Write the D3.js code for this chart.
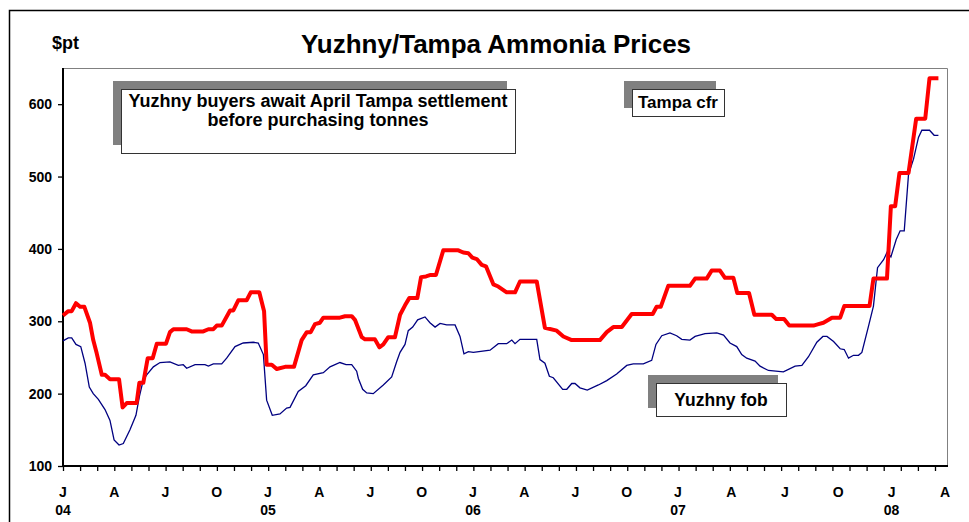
<!DOCTYPE html>
<meta charset="utf-8">
<style>
body{margin:0;background:#fff;}
text{font-family:"Liberation Sans",Arial,sans-serif;font-weight:bold;fill:#000;}
</style>
<body>
<script src="https://d3js.org/d3.v7.min.js"></script>
<script>

// months counted from Jan 2004 (0 = J 04), prices in $/t
var tampaCfr=[
[0,308],[0.31,314],[0.51,314],[0.76,325],[1.0,320],[1.25,320],[1.58,298],[1.77,274],[1.97,256],[2.27,226],[2.46,226],[2.75,220],[3.28,220],[3.49,181],[3.73,187],[4.31,187],[4.47,215],[4.70,215],[4.96,249],[5.25,249],[5.49,269],[6.03,269],[6.26,285],[6.46,289],[7.24,289],[7.53,286],[8.21,286],[8.51,289],[8.80,289],[9.0,294],[9.29,294],[9.78,315],[9.97,315],[10.26,329],[10.75,329],[10.99,340],[11.49,340],[11.77,314],[11.92,240],[12.22,240],[12.51,234],[13.0,237],[13.52,237],[13.97,274],[14.27,285],[14.50,285],[14.75,296],[15.04,298],[15.24,305],[16.21,305],[16.51,307],[16.90,307],[17.09,302],[17.49,278],[17.68,275],[18.26,275],[18.52,264],[18.75,268],[19.04,278],[19.43,278],[19.73,309],[20.02,322],[20.27,332],[20.74,332],[20.96,361],[21.25,362],[21.52,364],[21.83,364],[22.26,398],[23.14,398],[23.43,395],[23.73,394],[23.96,388],[24.22,386],[24.51,378],[24.76,376],[25.19,351],[25.48,348],[25.97,340],[26.46,340],[26.75,355],[27.73,355],[28.21,291],[28.90,287],[29.29,279],[29.78,274],[31.43,274],[31.83,285],[32.21,292],[32.71,292],[33.29,310],[34.52,310],[34.75,320],[34.99,320],[35.43,349],[36.67,349],[36.96,359],[37.61,359],[37.89,370],[38.36,370],[38.64,360],[39.11,360],[39.33,339],[39.99,339],[40.29,309],[41.27,309],[41.52,303],[41.96,303],[42.25,294],[43.61,294],[43.89,296],[44.17,298],[44.65,305],[45.11,305],[45.34,321],[46.76,321],[46.98,359],[47.74,359],[47.96,459],[48.20,459],[48.44,505],[48.95,505],[49.38,580],[49.89,580],[50.13,636],[50.63,636]
];

var yuzhnyFob=[
[0,273],[0.31,277],[0.51,277],[0.76,268],[1.04,265],[1.29,242],[1.54,209],[1.77,200],[2.07,192],[2.46,178],[2.75,163],[2.99,136],[3.28,129],[3.53,131],[3.92,150],[4.27,170],[4.47,196],[4.70,219],[4.90,226],[5.29,237],[5.68,243],[6.26,244],[6.75,239],[7.04,240],[7.24,235],[7.73,240],[8.31,240],[8.51,238],[8.80,241],[9.29,241],[9.58,249],[10.07,265],[10.55,270],[11.14,271],[11.43,270],[11.73,254],[11.92,191],[12.25,170],[12.70,172],[13.09,180],[13.29,181],[13.77,203],[14.21,211],[14.65,226],[15.24,229],[15.63,237],[16.21,243],[16.57,240],[16.90,240],[17.19,231],[17.29,221],[17.54,206],[17.78,201],[18.16,200],[18.75,212],[19.24,223],[19.53,244],[19.73,257],[20.02,268],[20.21,287],[20.47,292],[20.76,302],[21.19,306],[21.48,298],[21.78,292],[22.07,297],[22.46,295],[22.95,295],[23.24,279],[23.47,255],[23.73,258],[24.02,257],[25.0,260],[25.48,269],[25.97,269],[26.27,274],[26.46,269],[26.75,275],[27.73,275],[27.92,247],[28.21,242],[28.47,224],[28.70,222],[29.25,206],[29.49,206],[29.78,214],[29.97,214],[30.26,208],[30.69,205],[31.34,212],[31.83,218],[32.41,227],[33.0,239],[33.38,241],[33.97,241],[34.46,246],[34.71,268],[35.05,280],[35.53,284],[35.92,280],[36.21,275],[36.67,274],[36.96,279],[37.52,283],[38.18,284],[38.56,281],[38.92,270],[39.30,265],[39.58,254],[39.86,249],[40.33,245],[40.61,238],[41.08,232],[41.92,230],[42.58,238],[42.96,239],[43.33,251],[43.80,271],[44.14,279],[44.37,279],[44.74,272],[45.11,262],[45.34,261],[45.58,249],[45.86,253],[46.14,253],[46.33,257],[46.70,293],[46.98,321],[47.21,374],[47.55,385],[47.74,395],[47.96,389],[48.26,413],[48.48,425],[48.71,425],[48.95,503],[49.23,524],[49.51,554],[49.70,564],[50.13,564],[50.39,557],[50.63,557]
];

var monthLetters=["J","A","J","O"];
var yearLabels=["04","05","06","07","08"];
var yTicks=[100,200,300,400,500,600];

var svg=d3.select("body").append("svg").attr("width",969).attr("height",522);

// outer frame
svg.append("path").attr("d","M9.5,522V10.5H969").attr("fill","none").attr("stroke","#000").attr("stroke-width",1.5);

var pLeft=63, pRight=947, pTop=68, pBottom=466;

var x=d3.scaleLinear().domain([0,36,51]).range([63,678,945]);
var xTick=d3.scaleLinear().domain([0,51]).range([63,935]);
var y=d3.scaleLinear().domain([100,650]).range([pBottom,pTop]);

// plot frame (top/right grey)
svg.append("path").attr("d","M"+pLeft+","+(pTop+0.5)+"H"+(pRight+0.5)+"V"+pBottom)
  .attr("fill","none").attr("stroke","#808080").attr("stroke-width",1);

// tick marks along the bottom
var tickAxis=svg.append("g").attr("transform","translate(0,"+pBottom+")")
  .call(d3.axisBottom(xTick).tickValues(d3.range(0,52)).tickSize(5).tickFormat(""));
tickAxis.select(".domain").remove();
tickAxis.selectAll("line").attr("stroke","#000").attr("stroke-width",1.3);

// month/year labels
var qs=d3.range(0,52,3);
svg.selectAll(".mlab").data(qs).enter().append("text").attr("class","mlab")
  .attr("x",d=>x(d)).attr("y",pBottom+31).attr("text-anchor","middle")
  .style("font-size","14px").text(d=>monthLetters[(d/3)%4]);
svg.selectAll(".ylab").data(yearLabels).enter().append("text").attr("class","ylab")
  .attr("x",(d,i)=>x(i*12)).attr("y",pBottom+49).attr("text-anchor","middle")
  .style("font-size","14px").text(d=>d);

// y axis
var yAxis=svg.append("g").attr("transform","translate("+pLeft+",0)")
  .call(d3.axisLeft(y).tickValues(yTicks).tickSize(5).tickPadding(6));
yAxis.select(".domain").remove();
yAxis.selectAll("line").attr("stroke","#000").attr("stroke-width",1.3);
yAxis.selectAll("text").style("font-size","14px").style("font-family","'Liberation Sans',Arial,sans-serif").style("font-weight","bold");

svg.append("line").attr("x1",pLeft).attr("x2",pLeft).attr("y1",pTop).attr("y2",pBottom+1)
  .attr("stroke","#000").attr("stroke-width",2);
svg.append("line").attr("x1",pLeft).attr("x2",pRight+1).attr("y1",pBottom).attr("y2",pBottom)
  .attr("stroke","#000").attr("stroke-width",2);

var line=d3.line().x(d=>x(d[0])).y(d=>y(d[1]));

svg.append("path").datum(yuzhnyFob).attr("d",line)
  .attr("fill","none").attr("stroke","#000080").attr("stroke-width",1.3);
svg.append("path").datum(tampaCfr).attr("d",line)
  .attr("fill","none").attr("stroke","#ff0000").attr("stroke-width",4).attr("stroke-linejoin","round");

// titles
svg.append("text").attr("x",496).attr("y",53).attr("text-anchor","middle")
  .style("font-size","26px").text("Yuzhny/Tampa Ammonia Prices");
svg.append("text").attr("x",52).attr("y",49).style("font-size","18px").text("$pt");

// annotation boxes with grey shadow
function note(x0,y0,w,h,lines,fs,lh,by){
  svg.append("rect").attr("x",x0-8).attr("y",y0-8).attr("width",w).attr("height",h).attr("fill","#808080");
  svg.append("rect").attr("x",x0+0.5).attr("y",y0+0.5).attr("width",w).attr("height",h)
    .attr("fill","#fff").attr("stroke","#333").attr("stroke-width",1);
  lines.forEach(function(t,i){
    svg.append("text").attr("x",x0+w/2).attr("y",y0+by+i*lh).attr("text-anchor","middle")
      .style("font-size",fs+"px").text(t);
  });
}
note(121,89,394,64,["Yuzhny buyers await April Tampa settlement","before purchasing tonnes"],18,19,18);
note(632,89,92,27,["Tampa cfr"],17,0,19);
note(656,383,130,33,["Yuzhny fob"],17.5,0,23);
</script>
</body>
</html>
